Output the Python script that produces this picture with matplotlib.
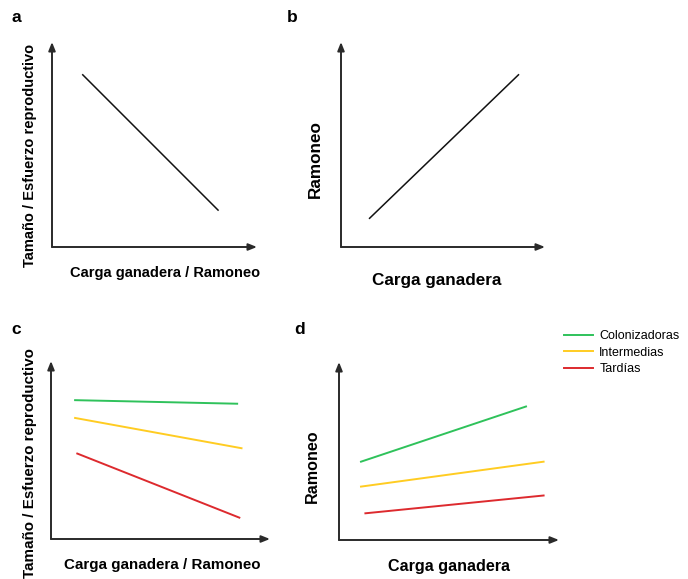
import matplotlib.pyplot as plt

plt.rcParams['font.family'] = ['Liberation Sans', 'DejaVu Sans']

# datos conceptuales (escala 0-10)
xa = [1.5, 8.1]
ya = [8.4, 1.8]

xb = [1.4, 8.7]
yb = [1.4, 8.4]

grupos = ['Colonizadoras', 'Intermedias', 'Tardías']
colores = ['#2fc25b', '#ffcc22', '#dd2a2e']

xc = [[1.1, 8.5], [1.1, 8.7], [1.2, 8.6]]
yc = [[7.8, 7.6], [6.8, 5.1], [4.8, 1.2]]

xd = [[1.0, 8.5], [1.0, 9.3], [1.2, 9.3]]
yd = [[4.4, 7.5], [3.0, 4.4], [1.5, 2.5]]

W, H = 688, 579
fig = plt.figure(figsize=(W / 100, H / 100), dpi=100)


def panel(x0, y0, x1, y1):
    # x0,x1 en px desde la izquierda, y0 = base, y1 = tope (px desde arriba)
    ax = fig.add_axes([x0 / W, 1 - y0 / H, (x1 - x0) / W, (y0 - y1) / H])
    ax.set_xlim(0, 10)
    ax.set_ylim(0, 10)
    for s in ax.spines.values():
        s.set_visible(False)
    ax.set_xticks([])
    ax.set_yticks([])
    ax.patch.set_alpha(0)
    flecha = dict(arrowstyle='-|>,head_length=0.5,head_width=0.2', color='#2a2a2a', lw=1.4,
                  shrinkA=0, shrinkB=0)
    ax.annotate('', xy=(1.0, 0), xytext=(0, 0), xycoords='axes fraction', arrowprops=flecha)
    ax.annotate('', xy=(0, 1.0), xytext=(0, 0), xycoords='axes fraction', arrowprops=flecha)
    return ax


def etiquetas(letra, lx, ly, xl, xlx, xly, yl, ylx, yly, fs):
    fig.text(lx / W, 1 - ly / H, letra, fontsize=12.5, fontweight='bold', ha='center', va='center')
    fig.text(xlx / W, 1 - xly / H, xl, fontsize=fs, fontweight='bold', ha='center', va='center')
    fig.text(ylx / W, 1 - yly / H, yl, fontsize=fs, fontweight='bold', ha='center', va='center',
             rotation=90)


# a
ax = panel(52, 247, 257, 42)
ax.plot(xa, ya, color='#111111', lw=1.1)
etiquetas('a', 16, 17, 'Carga ganadera / Ramoneo', 165, 273,
          'Tamaño / Esfuerzo reproductivo', 30, 155, 10.5)

# b
ax = panel(341, 247, 545, 42)
ax.plot(xb, yb, color='#111111', lw=1.1)
etiquetas('b', 292, 17, 'Carga ganadera', 437, 280, 'Ramoneo', 315, 159, 12.3)

# c
ax = panel(51, 539, 270, 361)
for x, y, c in zip(xc, yc, colores):
    ax.plot(x, y, color=c, lw=1.4)
etiquetas('c', 16, 330, 'Carga ganadera / Ramoneo', 162, 565,
          'Tamaño / Esfuerzo reproductivo', 30, 463, 10.9)

# d
ax = panel(339, 540, 559, 362)
lineas = []
for x, y, c in zip(xd, yd, colores):
    lineas += ax.plot(x, y, color=c, lw=1.4)
etiquetas('d', 300, 330, 'Carga ganadera', 449, 567, 'Ramoneo', 312, 466, 11.6)

fig.legend(lineas, grupos, loc='upper left', bbox_to_anchor=(553 / W, 1 - 319 / H),
           frameon=False, fontsize=9, handlelength=2.3, labelspacing=0.35, handletextpad=0.5)

fig.savefig('out.png', dpi=100)
